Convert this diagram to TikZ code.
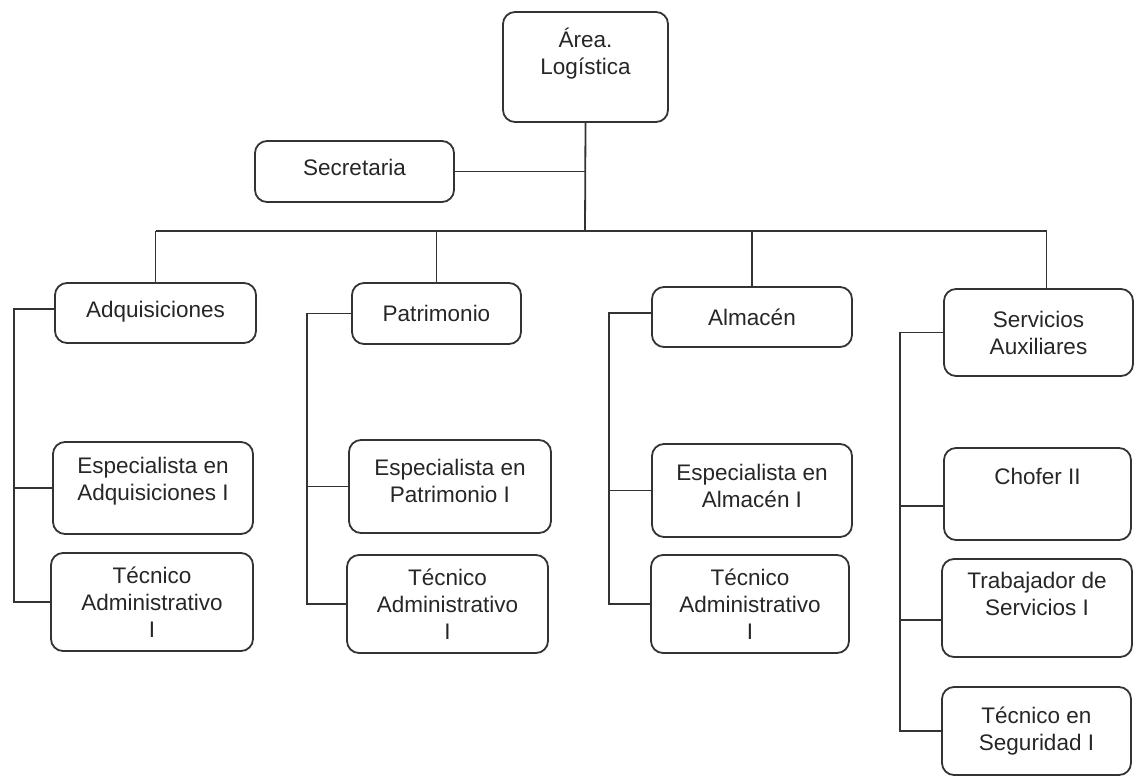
\documentclass[tikz,border=0pt]{standalone}
\usepackage{fontspec}
\setmainfont{Liberation Sans}

\tikzset{
  caja/.style={draw=black!80, line width=1.8pt, rounded corners=12pt, align=center,
    text=black!85, font=\fontsize{22.5}{27}\selectfont, inner sep=2pt},
  linea/.style={draw=black!80, line width=1.8pt}
}

\begin{document}
\begin{tikzpicture}[x=1pt,y=-1pt]
    \useasboundingbox (0,0) rectangle (1135,776);

    % cajas de arriba
    \node[caja, minimum width=165pt, minimum height=110pt, text depth=31pt] (area) at (585.5,67) {Área.\\Logística};
    \node[caja, minimum width=199pt, minimum height=61pt, text depth=8pt] (secr) at (354.5,171.5) {Secretaria};

    % jefaturas
    \node[caja, minimum width=201pt, minimum height=60pt, text depth=8pt] (adq) at (155.5,313) {Adquisiciones};
    \node[caja, minimum width=169pt, minimum height=61pt] (pat) at (436.5,313.5) {Patrimonio};
    \node[caja, minimum width=200pt, minimum height=60pt] (alm) at (752,317) {Almacén};
    \node[caja, minimum width=189pt, minimum height=87pt] (serv) at (1038.5,332.5) {Servicios\\Auxiliares};

    % puestos
    \node[caja, minimum width=200pt, minimum height=92pt, text depth=19pt] (espadq) at (153,488) {Especialista en\\Adquisiciones I};
    \node[caja, minimum width=202pt, minimum height=98pt] (tecadq) at (152,602) {Técnico\\Administrativo\\I};
    \node[caja, minimum width=202pt, minimum height=93pt, text depth=11pt] (esppat) at (450,486.5) {Especialista en\\Patrimonio I};
    \node[caja, minimum width=201pt, minimum height=98pt] (tecpat) at (447.5,604) {Técnico\\Administrativo\\I};
    \node[caja, minimum width=200pt, minimum height=93pt, text depth=10pt] (espalm) at (752,490.5) {Especialista en\\Almacén I};
    \node[caja, minimum width=198pt, minimum height=98pt] (tecalm) at (750,604) {Técnico\\Administrativo\\I};
    \node[caja, minimum width=187pt, minimum height=92pt, text depth=36pt] (chofer) at (1037.5,494) {Chofer II};
    \node[caja, minimum width=190pt, minimum height=98pt, text depth=28pt] (trab) at (1037,608) {Trabajador de\\Servicios I};
    \node[caja, minimum width=189pt, minimum height=88pt] (seg) at (1036.5,731) {Técnico en\\Seguridad I};

    % puntos de apoyo
    \coordinate (bus) at (585,231);
    \coordinate (servtop) at ([xshift=8pt]serv.north);
    \coordinate (lA) at (14,0);
    \coordinate (lP) at (307,0);
    \coordinate (lM) at (609,0);
    \coordinate (lS) at (900,0);
    \coordinate (adqw) at ([yshift=4pt]adq.west);
    \coordinate (almw) at ([yshift=4pt]alm.west);
    \coordinate (chofw) at ([yshift=-12pt]chofer.west);
    \coordinate (trabw) at ([yshift=-12pt]trab.west);

    % lineas principales
    \draw[linea] (area.south) -- (bus);
    \draw[linea] (secr.east) -- (secr.east -| bus);
    \draw[linea] (adq.north |- bus) -- (servtop |- bus);
    \draw[linea] (adq.north) -- (adq.north |- bus);
    \draw[linea] (pat.north) -- (pat.north |- bus);
    \draw[linea] (alm.north) -- (alm.north |- bus);
    \draw[linea] (servtop) -- (servtop |- bus);

    % columnas
    \draw[linea] (adqw) -| (lA |- tecadq.west) -- (tecadq.west);
    \draw[linea] (espadq.west) -- (espadq.west -| lA);
    \draw[linea] (pat.west) -| (lP |- tecpat.west) -- (tecpat.west);
    \draw[linea] (esppat.west) -- (esppat.west -| lP);
    \draw[linea] (almw) -| (lM |- tecalm.west) -- (tecalm.west);
    \draw[linea] (espalm.west) -- (espalm.west -| lM);
    \draw[linea] (serv.west) -| (lS |- seg.west) -- (seg.west);
    \draw[linea] (chofw) -- (chofw -| lS);
    \draw[linea] (trabw) -- (trabw -| lS);
\end{tikzpicture}
\end{document}
